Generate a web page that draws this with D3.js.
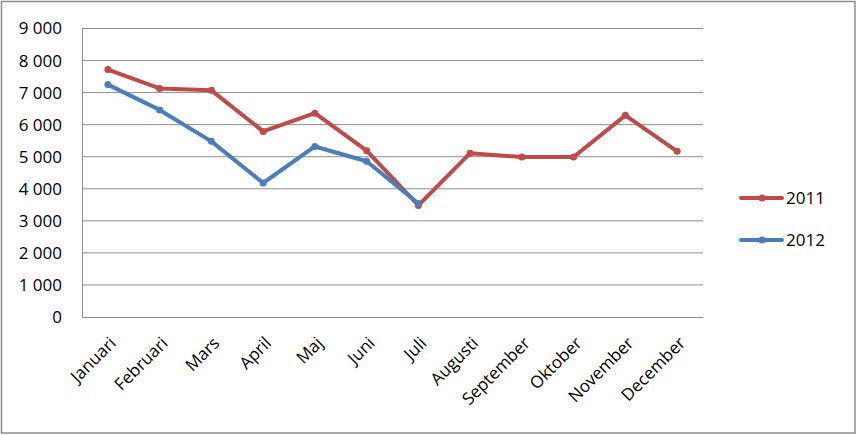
<!DOCTYPE html>
<html>
<head>
<meta charset="utf-8">
<script src="https://cdn.jsdelivr.net/npm/d3@7"></script>
<style>
  body { margin: 0; background: #fff; }
  svg { display: block; font-family: "Open Sans", sans-serif; }
</style>
</head>
<body>
<div id="chart"></div>
<script>
// Monthly values
const months = ['Januari', 'Februari', 'Mars', 'April', 'Maj', 'Juni', 'Juli',
    'Augusti', 'September', 'Oktober', 'November', 'December'];
const values2011 = [7720, 7130, 7070, 5790, 6360, 5190, 3480, 5110, 4990, 4990, 6290, 5170];
const values2012 = [7250, 6460, 5480, 4180, 5320, 4860, 3540];
const yTicks = [0, 1000, 2000, 3000, 4000, 5000, 6000, 7000, 8000, 9000];
const seriesNames = ['2011', '2012'];
const seriesColors = ['#BE4B48', '#4A7EBB'];

const W = 857, H = 435;
const margin = { top: 28.5, right: 154, bottom: 118, left: 82 };
const innerW = W - margin.left - margin.right;
const innerH = H - margin.top - margin.bottom;

const svg = d3.select('#chart').append('svg')
    .attr('width', W)
    .attr('height', H);

// outer frame
svg.append('rect')
    .attr('x', 1.5).attr('y', 1.5)
    .attr('width', W - 3.5).attr('height', H - 3.5)
    .attr('fill', '#fff')
    .attr('stroke', '#8c8c8c')
    .attr('stroke-width', 1.5);

const g = svg.append('g')
    .attr('transform', `translate(${margin.left},${margin.top})`);

const x = d3.scaleBand().domain(months).range([0, innerW]);
const y = d3.scaleLinear().domain([0, 9000]).range([innerH, 0]);

// gridlines
g.selectAll('.grid')
    .data(yTicks.filter(d => d > 0))
    .join('line')
    .attr('class', 'grid')
    .attr('x1', 0).attr('x2', innerW)
    .attr('y1', d => y(d)).attr('y2', d => y(d))
    .attr('stroke', '#8e8e8e')
    .attr('stroke-width', 1);

// y axis
const fmt = d => d3.format(',')(d).replace(/,/g, ' ');
const yAxis = g.append('g')
    .call(d3.axisLeft(y).tickValues(yTicks).tickFormat(fmt).tickSize(0).tickPadding(20));
yAxis.select('.domain').attr('stroke', '#8e8e8e');
yAxis.selectAll('text')
    .attr('font-size', 17)
    .attr('font-family', '"Open Sans", sans-serif')
    .attr('fill', '#000');

// x axis
const xAxis = g.append('g')
    .attr('transform', `translate(0,${innerH})`)
    .call(d3.axisBottom(x).tickSize(0).tickPadding(0));
xAxis.select('.domain').attr('stroke', '#8e8e8e');
xAxis.selectAll('text')
    .attr('font-size', 17)
    .attr('font-family', '"Open Sans", sans-serif')
    .attr('fill', '#000')
    .attr('text-anchor', 'end')
    .attr('dy', '0.35em')
    .attr('transform', 'translate(5,23) rotate(-45)');

// series lines
const series = [values2011, values2012];
const line = d3.line()
    .x((d, i) => x(months[i]) + x.bandwidth() / 2)
    .y(d => y(d));

series.forEach((vals, s) => {
    g.append('path')
        .datum(vals)
        .attr('fill', 'none')
        .attr('stroke', seriesColors[s])
        .attr('stroke-width', 4)
        .attr('stroke-linejoin', 'round')
        .attr('d', line);

    g.selectAll(`.pt${s}`)
        .data(vals)
        .join('circle')
        .attr('class', `pt${s}`)
        .attr('cx', (d, i) => x(months[i]) + x.bandwidth() / 2)
        .attr('cy', d => y(d))
        .attr('r', 3.5)
        .attr('fill', seriesColors[s]);
});

// legend
const legend = svg.append('g').attr('transform', 'translate(741,198)');
seriesNames.forEach((name, i) => {
    const row = legend.append('g').attr('transform', `translate(0,${i * 42})`);
    row.append('line')
        .attr('x1', 0).attr('x2', 41)
        .attr('stroke', seriesColors[i])
        .attr('stroke-width', 4)
        .attr('stroke-linecap', 'round');
    row.append('circle')
        .attr('cx', 21).attr('r', 3.5)
        .attr('fill', seriesColors[i]);
    row.append('text')
        .attr('x', 45)
        .attr('dy', '0.35em')
        .attr('font-size', 17)
        .text(name);
});
</script>
</body>
</html>
